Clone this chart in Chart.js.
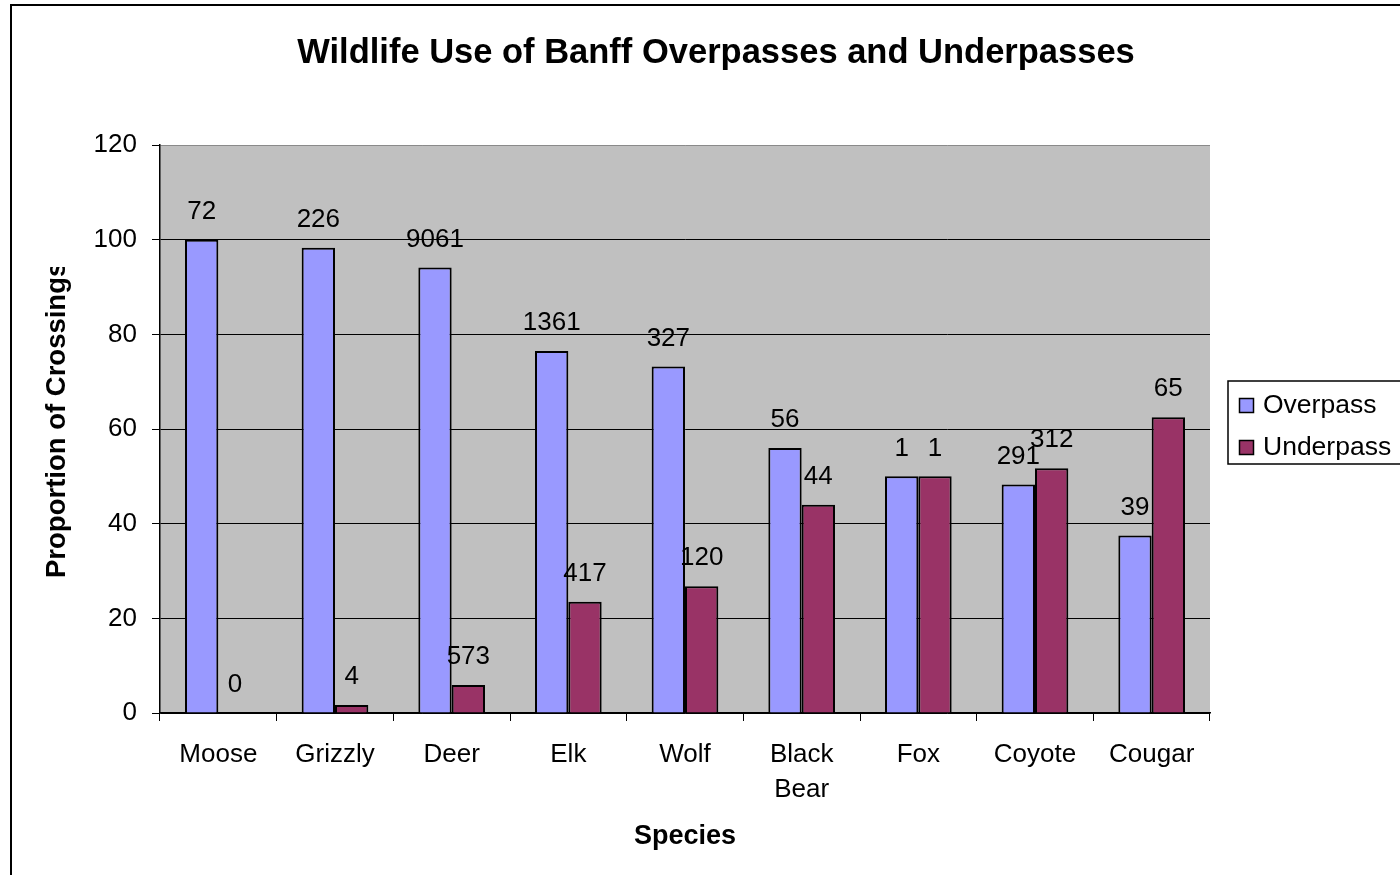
<!DOCTYPE html>
<html lang="en">
<head>
    <meta charset="UTF-8">
    <title>Wildlife Use of Banff Overpasses and Underpasses</title>
    <script src="https://cdn.jsdelivr.net/npm/chart.js"></script>
    <style>
        html, body { margin: 0; padding: 0; background: #fff; }
        .container { width: 1400px; height: 875px; }
    </style>
</head>
<body>
    <div class="container">
        <canvas id="crossChart" width="1400" height="875"></canvas>
    </div>

    <script>
        // data
        const species = ['Moose', 'Grizzly', 'Deer', 'Elk', 'Wolf', ['Black', 'Bear'], 'Fox', 'Coyote', 'Cougar'];
        const overpassPct = [100, 98.3, 94.1, 76.5, 73.2, 56, 50, 48.3, 37.5];
        const underpassPct = [0, 1.7, 5.9, 23.5, 26.8, 44, 50, 51.7, 62.5];
        const overpassCounts = [72, 226, 9061, 1361, 327, 56, 1, 291, 39];
        const underpassCounts = [0, 4, 573, 417, 120, 44, 1, 312, 65];
        const yTicks = [0, 20, 40, 60, 80, 100, 120];

        const FONT = '"Liberation Sans", Arial, sans-serif';

        // frame, grey plot area and chart title
        const backdrop = {
            id: 'backdrop',
            beforeDraw(chart) {
                const {ctx, chartArea} = chart;
                ctx.save();
                ctx.fillStyle = '#fff';
                ctx.fillRect(0, 0, chart.width, chart.height);
                ctx.fillStyle = '#C0C0C0';
                ctx.fillRect(chartArea.left, chartArea.top, chartArea.right - chartArea.left, chartArea.bottom - chartArea.top);
                ctx.strokeStyle = '#000';
                ctx.lineWidth = 2;
                ctx.strokeRect(11, 5, 1600, 1000);
                ctx.restore();
            },
            afterDraw(chart) {
                const {ctx} = chart;
                ctx.save();
                ctx.fillStyle = '#000';
                ctx.font = 'bold 34.5px ' + FONT;
                ctx.textAlign = 'center';
                ctx.textBaseline = 'middle';
                ctx.fillText('Wildlife Use of Banff Overpasses and Underpasses', 716, 53);

                // y axis title, cut off at the top like the original
                ctx.beginPath();
                ctx.rect(0, 267, 150, 500);
                ctx.clip();
                ctx.translate(57, 578);
                ctx.rotate(-Math.PI / 2);
                ctx.font = 'bold 27.5px ' + FONT;
                ctx.textAlign = 'left';
                ctx.fillText('Proportion of Crossings', 0, 0);
                ctx.restore();
            }
        };

        // counts written above each bar
        const countLabels = {
            id: 'countLabels',
            afterDatasetsDraw(chart) {
                const {ctx} = chart;
                const counts = [overpassCounts, underpassCounts];
                ctx.save();
                ctx.fillStyle = '#000';
                ctx.font = '26px ' + FONT;
                ctx.textAlign = 'center';
                ctx.textBaseline = 'middle';
                chart.data.datasets.forEach((ds, i) => {
                    chart.getDatasetMeta(i).data.forEach((bar, j) => {
                        ctx.fillText(String(counts[i][j]), bar.x, bar.y - 28);
                    });
                });
                ctx.restore();
            }
        };

        // boxed legend on the right
        const boxLegend = {
            id: 'boxLegend',
            afterDraw(chart) {
                const {ctx} = chart;
                ctx.save();
                ctx.strokeStyle = '#000';
                ctx.lineWidth = 1.5;
                ctx.strokeRect(1228, 381, 300, 83);
                ctx.font = '26.5px ' + FONT;
                ctx.textBaseline = 'middle';
                chart.data.datasets.forEach((ds, i) => {
                    const y = 405 + i * 42;
                    ctx.fillStyle = ds.backgroundColor;
                    ctx.fillRect(1239, y - 7, 14, 14);
                    ctx.lineWidth = 1.5;
                    ctx.strokeRect(1239.5, y - 6.5, 14, 14);
                    ctx.fillStyle = '#000';
                    ctx.fillText(ds.label, 1263, y + 1);
                });
                ctx.restore();
            }
        };

        const ctx = document.getElementById('crossChart').getContext('2d');
        const chart = new Chart(ctx, {
            type: 'bar',
            data: {
                labels: species,
                datasets: [{
                    label: 'Overpass',
                    data: overpassPct,
                    backgroundColor: '#9999FF',
                    borderColor: '#000',
                    borderWidth: 2
                }, {
                    label: 'Underpass',
                    data: underpassPct,
                    backgroundColor: '#993366',
                    borderColor: '#000',
                    borderWidth: 2
                }]
            },
            options: {
                responsive: false,
                animation: false,
                datasets: {
                    bar: { categoryPercentage: 2 / 3.5, barPercentage: 1 }
                },
                layout: { padding: { left: 30, right: 190, top: 145, bottom: 0 } },
                plugins: {
                    legend: { display: false },
                    title: { display: false },
                    tooltip: { enabled: false }
                },
                scales: {
                    x: {
                        grid: {
                            drawOnChartArea: false,
                            drawTicks: true,
                            tickLength: 8,
                            tickColor: '#000',
                            offset: true
                        },
                        border: { display: true, color: '#000', width: 1.5 },
                        ticks: {
                            color: '#000',
                            font: { family: FONT, size: 26, lineHeight: 1.35 },
                            padding: 16,
                            maxRotation: 0,
                            autoSkip: false
                        },
                        title: {
                            display: true,
                            text: 'Species',
                            color: '#000',
                            font: { family: FONT, size: 27, weight: 'bold', lineHeight: 1.2 },
                            padding: { top: 0, bottom: 22 }
                        },
                        afterFit(scale) { scale.height = 162; }
                    },
                    y: {
                        min: 0,
                        max: 120,
                        afterBuildTicks(scale) {
                            scale.ticks = yTicks.map(v => ({ value: v }));
                        },
                        grid: {
                            color: c => (c.tick && c.tick.value === 120) ? '#8a8a8a' : '#000',
                            tickColor: '#000',
                            tickLength: 8,
                            lineWidth: 1
                        },
                        border: { display: true, color: '#000', width: 1.5 },
                        ticks: {
                            color: '#000',
                            font: { family: FONT, size: 26 },
                            padding: 15
                        },
                        afterFit(scale) { scale.width = 130; }
                    }
                }
            },
            plugins: [backdrop, countLabels, boxLegend]
        });
    </script>
</body>
</html>
